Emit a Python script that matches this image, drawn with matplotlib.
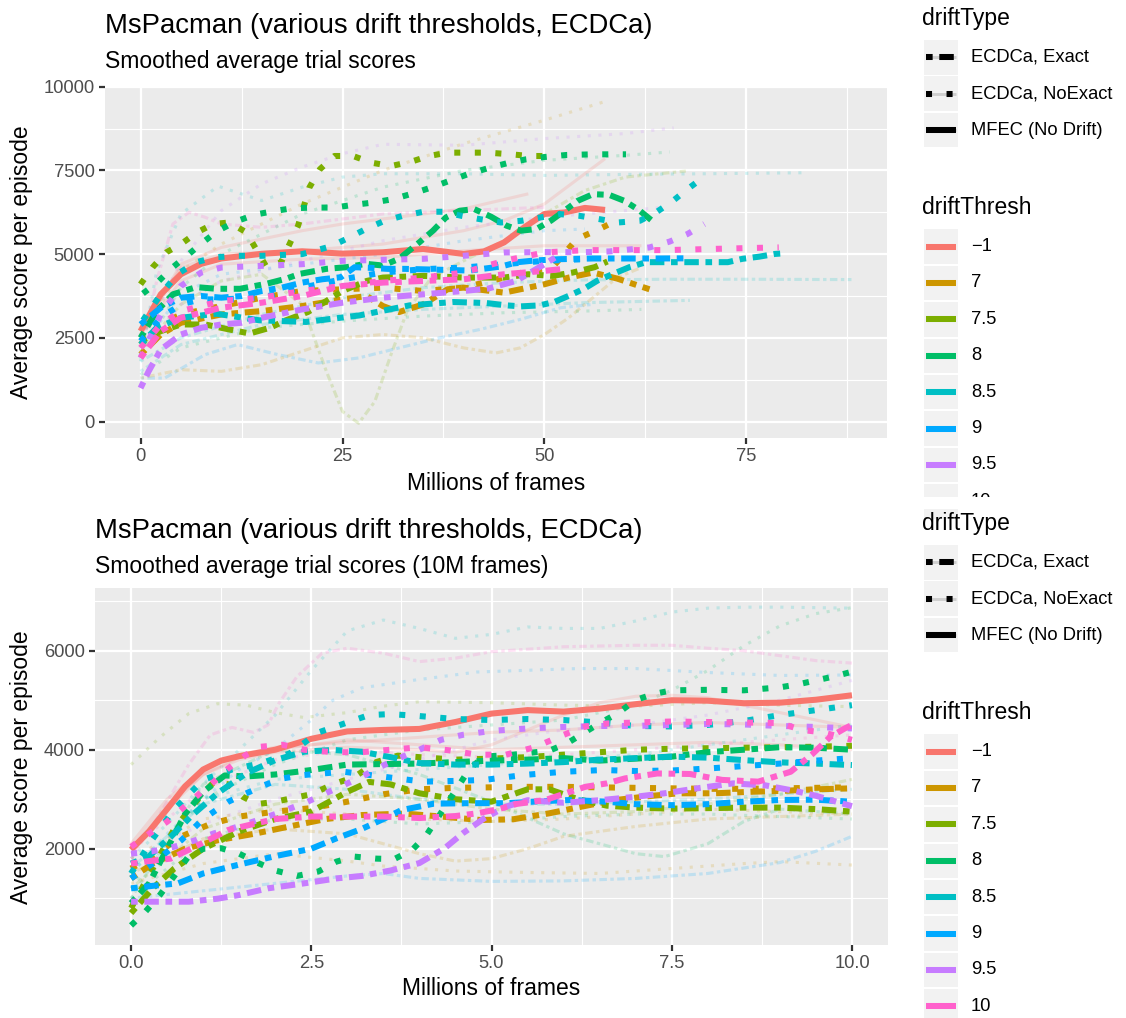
import matplotlib
matplotlib.use("Agg")
import matplotlib.pyplot as plt
from matplotlib.patches import Rectangle

plt.rcParams['font.family'] = ['Liberation Sans', 'DejaVu Sans']

W, H, DPI = 1126, 1018, 150

# ---------------- legend / category data ----------------
thresh_levels = ["\u22121", "7", "7.5", "8", "8.5", "9", "9.5", "10"]
thresh_colors = ["#F8766D", "#CD9600", "#7CAE00", "#00BE67", "#00BFC4", "#00A9FF", "#C77CFF", "#FF61CC"]
type_levels = ["ECDCa, Exact", "ECDCa, NoExact", "MFEC (No Drift)"]

# ---------------- TOP PANEL: thick (mean) lines ----------------
t_mfec_x = [0, 2.5, 5, 7.5, 10, 15, 20, 25, 30, 35, 40, 42.5, 45, 47.5, 50, 52.5, 55, 57.5]
t_mfec_y = [2700, 3800, 4400, 4710, 4870, 5010, 5085, 5015, 5055, 5155, 5005, 5080, 5350, 5800, 6200, 6245, 6380, 6320]

t_7e_x = [0, 2.5, 5, 10, 15, 20, 25, 28, 30, 32, 35, 38, 40, 45, 50, 53, 56, 59, 61, 63]
t_7e_y = [2000, 2600, 2950, 3200, 3300, 3450, 3650, 3750, 3450, 3270, 3500, 3950, 4000, 3850, 4100, 4300, 4450, 4270, 4110, 3950]
t_7n_x = [0, 2.5, 5, 10, 15, 20, 25, 30, 35, 40, 45, 48, 51, 54, 56.8, 58.9]
t_7n_y = [2300, 2900, 3200, 3450, 3700, 3900, 3950, 4000, 3900, 4000, 4300, 4500, 4610, 5450, 5750, 6000]

t_75e_x = [0, 2.5, 5, 8, 11, 13.5, 16, 18, 20.7, 23, 25, 28, 30, 35, 40, 45, 48, 51, 53.5, 56.2, 57.8]
t_75e_y = [2400, 2700, 2900, 2900, 2750, 2630, 2800, 3025, 3270, 3600, 3900, 4200, 4300, 4350, 4300, 4300, 4400, 4350, 4450, 4610, 4780]
t_75n_x = [0, 1.5, 3.2, 5, 7, 9, 11, 13.1, 15.6, 17.4, 19.5, 20.9, 22.2, 24, 26.3, 28.6, 31, 33.5, 35.7, 38, 40.5, 43, 45.9, 48.1, 50.6]
t_75n_y = [4100, 4610, 5055, 5300, 5650, 5900, 5945, 5650, 4610, 4757, 5850, 6990, 7535, 7930, 7930, 7730, 7630, 7760, 7930, 8030, 8030, 8030, 7980, 7930, 7930]

t_8e_x = [0, 2, 4, 6.9, 9.4, 12.3, 15.6, 18, 19.7, 23, 25.5, 27.9, 30, 32, 34.5, 36.2, 37.8, 39.5, 41.3, 43.4, 45.3, 47.1, 49, 50.8, 52.5, 54.1, 56, 58, 59.9, 61.7, 63.2]
t_8e_y = [2500, 3300, 3800, 4015, 3965, 3965, 4115, 4265, 4410, 4560, 4610, 4710, 4660, 4860, 5350, 5700, 6095, 6295, 6345, 6115, 5850, 5700, 5750, 6000, 6300, 6590, 6790, 6770, 6590, 6315, 6020]
t_8n_x = [0.3, 2.1, 4, 5.9, 7.7, 9.6, 11.8, 14.1, 16.6, 18.8, 21.5, 24, 26.3, 28.8, 31.2, 33.7, 36, 38.2, 40.5, 43, 45.3, 47.7, 50, 52.7, 56, 60.1]
t_8n_y = [3825, 4160, 4610, 4985, 5350, 5700, 5975, 6175, 6290, 6370, 6390, 6390, 6470, 6540, 6640, 6810, 6990, 7185, 7385, 7565, 7710, 7830, 7900, 7960, 7980, 7980]

t_85e_x = [0, 2, 5, 9.4, 14.7, 20.5, 27.1, 33.3, 38.7, 42.8, 45.3, 47.1, 49.4, 51.2, 53.1, 54.9, 56.6, 58.5, 60.5, 62.6, 64.4, 68.8, 72.7, 74.5, 76.6, 78.5, 79.7]
t_85e_y = [2300, 2800, 3100, 3220, 3025, 2975, 3170, 3470, 3570, 3540, 3470, 3440, 3470, 3570, 3765, 3965, 4215, 4410, 4610, 4760, 4760, 4760, 4760, 4860, 4925, 5005, 5025]
t_85n_x = [0.3, 2.5, 4.6, 6.9, 9.2, 12, 15, 20, 23.6, 25.7, 27.9, 30.2, 32.5, 35, 37.4, 39.7, 42, 44.6, 47.1, 51.9, 54.3, 56.8, 59.1, 61.8, 63.8, 65.9, 67.7, 69.7]
t_85n_y = [3025, 3800, 4410, 4760, 4905, 4950, 4950, 5000, 5235, 5480, 5750, 5995, 6145, 6265, 6265, 6145, 6045, 5945, 5995, 6195, 6145, 6045, 5945, 5995, 6245, 6590, 6940, 7300]

t_9e_x = [0, 2.5, 5, 7.5, 10, 12.5, 15, 17.5, 20, 22.5, 24.8, 26.5, 28.5, 30.6, 32.7, 36, 40.7, 44.6, 46.7, 48.8, 52, 56, 60, 64, 67.7]
t_9e_y = [2900, 3400, 3700, 3750, 3700, 3750, 3900, 4000, 4150, 4250, 4310, 4610, 4590, 4560, 4560, 4540, 4510, 4630, 4760, 4810, 4850, 4870, 4870, 4870, 4875]
t_9n_x = [0, 2.5, 5, 7.5, 10, 15, 20, 25, 30, 35, 40, 45, 50, 55]
t_9n_y = [2400, 3100, 3500, 3650, 3650, 3700, 4000, 4250, 4450, 4550, 4600, 4700, 4800, 4850]

t_95e_x = [0, 1, 2.5, 5, 7.5, 10, 12.5, 15, 20, 25, 30, 35, 40, 43, 46.5, 50, 52]
t_95e_y = [1000, 1500, 2150, 2600, 2800, 2900, 2950, 3100, 3350, 3550, 3700, 3800, 3900, 3970, 4200, 4700, 5000]
t_95n_x = [0, 2.5, 5, 7.5, 10, 15, 20, 25, 30, 35, 40, 45, 50, 55, 58, 61, 63, 65.5, 67.7, 69.8]
t_95n_y = [1900, 3200, 4050, 4450, 4600, 4650, 4700, 4800, 4830, 4860, 4950, 5050, 5060, 5060, 5080, 5150, 5200, 5375, 5600, 5900]

t_10e_x = [0, 2.5, 5, 10, 15, 20, 25, 30, 35, 40, 45, 50, 52]
t_10e_y = [1900, 2700, 3100, 3400, 3550, 3750, 4050, 4150, 4200, 4250, 4400, 4500, 4550]
t_10n_x = [0, 2.5, 5, 10, 15, 20, 25, 30, 35, 40, 45, 50, 55, 60, 65, 70, 75, 79]
t_10n_y = [2200, 2900, 3300, 3600, 3700, 3900, 4050, 4200, 4300, 4450, 4800, 5050, 5120, 5120, 5120, 5150, 5180, 5200]

# ---------------- TOP PANEL: faint (per-trial) lines ----------------
tf1_x = [0, 5, 10, 15, 20, 23, 25, 27, 29, 31, 33, 36, 40, 45, 50, 55, 60, 67.5]
tf1_y = [2100, 3500, 4200, 4400, 3500, 1500, 300, -50, 600, 2000, 3300, 4300, 4800, 5400, 6200, 6900, 7300, 7480]
tf2_x = [0, 5, 10, 20, 30, 40, 50, 57.4]
tf2_y = [2500, 4500, 5300, 6500, 7500, 8300, 9000, 9550]
tf3_x = [0, 5, 10, 15, 20, 25, 30, 40, 50, 60, 66]
tf3_y = [2200, 4800, 6300, 7100, 7600, 8000, 8280, 8250, 8450, 8600, 8770]
tf4_x = [0, 2, 5, 9.6, 15, 20, 25, 30, 40, 50, 60, 70, 82]
tf4_y = [1800, 4500, 6200, 7030, 6600, 7000, 7300, 7400, 7400, 7350, 7380, 7400, 7430]
tf5_x = [0, 5, 15, 25, 35, 45, 55, 65, 75, 88]
tf5_y = [1800, 2500, 3200, 3700, 4000, 4150, 4230, 4250, 4250, 4240]
tf6_x = [0, 5, 15, 25, 35, 45, 55, 68]
tf6_y = [1500, 2300, 2900, 3200, 3350, 3450, 3550, 3620]
tf7_x = [0, 5, 15, 25, 35, 45, 55, 62]
tf7_y = [1400, 2200, 2800, 3000, 3150, 3250, 3300, 3350]
tf8_x = [0, 3, 8, 12, 17, 22, 27, 32, 37, 42, 47, 52, 56]
tf8_y = [1300, 1300, 2000, 2300, 2000, 1750, 1900, 2200, 2500, 2750, 3050, 3400, 3500]
tf9_x = [0, 5, 10, 15, 20, 25, 30, 35, 40, 44, 47, 50, 53, 56, 59, 62]
tf9_y = [1300, 1550, 1500, 1700, 2100, 2500, 2600, 2500, 2200, 2050, 2200, 2600, 3100, 3700, 4300, 4600]
tf10_x = [0, 5, 10, 20, 30, 40, 45, 50, 55, 57.5]
tf10_y = [2700, 4600, 5000, 5100, 5300, 5700, 6000, 6500, 7400, 7850]
tf11_x = [0, 5, 10, 20, 30, 40, 50, 62]
tf11_y = [2600, 4200, 4700, 4850, 4900, 5100, 5250, 5250]
tf12_x = [0, 5, 10, 20, 25, 30, 40, 48]
tf12_y = [2600, 4700, 5200, 5700, 5900, 6050, 6350, 6800]
tf13_x = [0, 2, 4, 6, 8, 10, 15, 20, 25, 30, 40, 50]
tf13_y = [2000, 4200, 5900, 6250, 6100, 5900, 5800, 5900, 6050, 6200, 6300, 6400]
tf14_x = [0, 5, 10, 20, 30, 40, 50, 60, 65.5]
tf14_y = [2000, 4000, 5000, 6200, 7000, 7500, 7800, 7950, 8050]
tf15_x = [0, 5, 10, 20, 30, 40, 50, 60, 65]
tf15_y = [2000, 3500, 4200, 4800, 5400, 5800, 6100, 6300, 6400]
tf16_x = [0, 5, 10, 20, 30, 40, 50, 55]
tf16_y = [2200, 3800, 4400, 4700, 5000, 5400, 5700, 5750]

# ---------------- BOTTOM PANEL: thick (mean) lines ----------------
b_mfec_x = [0, 0.25, 0.5, 0.75, 1.0, 1.25, 1.5, 2.0, 2.5, 3.0, 3.5, 4.0, 4.5, 5.0, 5.5, 6.0, 6.5, 7.0, 7.5, 8.0, 8.5, 9.0, 9.5, 10]
b_mfec_y = [1980, 2350, 2800, 3260, 3600, 3780, 3870, 4000, 4220, 4370, 4400, 4420, 4560, 4730, 4800, 4770, 4830, 4920, 5000, 4990, 4940, 4950, 5010, 5100]

b_7e_x = [0, 0.3, 0.75, 1.2, 1.7, 2.2, 2.7, 3.2, 3.8, 4.3, 4.85, 5.3, 5.8, 6.25, 6.7, 7.2, 7.6, 8.1, 8.6, 9.05, 9.5, 10]
b_7e_y = [1400, 1700, 2000, 2170, 2300, 2450, 2600, 2680, 2710, 2650, 2580, 2595, 2715, 2850, 2980, 3065, 3120, 3120, 3150, 3170, 3200, 3220]
b_7n_x = [0, 0.3, 0.7, 1.1, 1.5, 2.0, 2.5, 3.0, 3.5, 4.0, 4.5, 5.0, 5.5, 6.0, 6.5, 7.0, 7.5, 8.0, 8.5, 9.0, 9.5, 10]
b_7n_y = [1600, 1850, 2250, 2500, 2650, 2750, 2820, 2950, 3100, 3200, 3230, 3240, 3250, 3250, 3240, 3230, 3220, 3210, 3210, 3220, 3230, 3240]

b_75e_x = [0, 0.3, 0.6, 1.0, 1.5, 2.0, 2.5, 3.0, 3.3, 3.6, 4.0, 4.5, 5.0, 5.5, 5.8, 6.2, 6.6, 7.0, 7.5, 8.0, 8.5, 9.0, 9.5, 10]
b_75e_y = [700, 1200, 1600, 2000, 2350, 2600, 2750, 3150, 3350, 3300, 3120, 3000, 2950, 3200, 3200, 3000, 2870, 2830, 2810, 2820, 2830, 2830, 2800, 2750]
b_75n_x = [0, 0.3, 0.6, 0.9, 1.15, 1.35, 1.55, 1.75, 2.0, 2.5, 2.8, 3.1, 3.4, 3.7, 4.0, 4.5, 5.0, 5.5, 6.0, 6.5, 7.0, 7.5, 8.0, 8.5, 9.0, 9.5, 10]
b_75n_y = [800, 1600, 2400, 2950, 3350, 3300, 3050, 2900, 2950, 3100, 3300, 3450, 3750, 3880, 3850, 3800, 3820, 3850, 3900, 3950, 4000, 4020, 4030, 4040, 4050, 4060, 4080]

b_8e_x = [0, 0.25, 0.5, 0.75, 1.0, 1.3, 1.6, 2.0, 2.5, 3.0, 3.5, 4.0, 4.5, 5.0, 5.5, 6.0, 6.5, 7.0, 7.5, 8.0, 8.5, 9.0, 9.5, 10]
b_8e_y = [900, 1300, 2000, 2700, 3150, 3480, 3460, 3500, 3590, 3700, 3710, 3720, 3750, 3780, 3800, 3830, 3780, 3820, 3860, 3950, 4000, 4050, 4040, 4000]
b_8n_x = [0, 0.2, 0.4, 0.6, 0.8, 1.0, 1.25, 1.5, 1.75, 2.0, 2.3, 2.6, 2.85, 3.1, 3.4, 3.65, 3.9, 4.1, 4.25, 4.4, 4.55, 4.7, 4.9, 5.3, 5.8, 6.05, 6.27, 6.5, 6.75, 7.0, 7.25, 7.5, 8.0, 8.5, 9.0, 9.25, 9.5, 9.75, 10]
b_8n_y = [450, 730, 1065, 1450, 1850, 2000, 2010, 1900, 1720, 1560, 1450, 1540, 1740, 1840, 1800, 1790, 1975, 2280, 2615, 2950, 3285, 3625, 3860, 3900, 3980, 4130, 4330, 4535, 4735, 5005, 5125, 5200, 5210, 5200, 5260, 5320, 5400, 5480, 5575]

b_85e_x = [0, 0.25, 0.55, 0.85, 1.2, 1.6, 2.0, 2.4, 2.8, 3.2, 3.6, 4.0, 4.5, 5.0, 5.5, 6.0, 6.5, 7.0, 7.5, 8.0, 8.5, 9.0, 9.5, 10]
b_85e_y = [1700, 1850, 2240, 2680, 3120, 3525, 3790, 3960, 3995, 3960, 3850, 3730, 3700, 3700, 3720, 3750, 3800, 3830, 3860, 3840, 3790, 3745, 3720, 3690]
b_85n_x = [0, 0.3, 0.6, 1.0, 1.4, 1.8, 2.2, 2.6, 3.0, 3.3, 3.6, 4.0, 4.5, 5.0, 5.5, 6.0, 6.5, 7.0, 7.5, 8.0, 8.5, 9.0, 9.5, 10]
b_85n_y = [1500, 2200, 2800, 3390, 3600, 3725, 3925, 4350, 4550, 4700, 4720, 4680, 4620, 4600, 4620, 4600, 4550, 4480, 4470, 4500, 4580, 4700, 4800, 4900]

b_9e_x = [0, 0.3, 0.65, 1.0, 1.5, 2.0, 2.5, 2.85, 3.2, 3.5, 3.75, 4.2, 4.7, 5.2, 5.7, 6.1, 6.6, 7.0, 7.5, 8.0, 8.5, 9.0, 9.5, 10]
b_9e_y = [1200, 1250, 1300, 1500, 1680, 1850, 2000, 2210, 2400, 2600, 2780, 2910, 2920, 2920, 2960, 2985, 2950, 2900, 2880, 2900, 2950, 2985, 2990, 2950]
b_9n_x = [0, 0.3, 0.7, 1.0, 1.35, 1.6, 1.85, 2.1, 2.4, 2.95, 3.5, 4.05, 4.5, 4.9, 5.45, 6.0, 6.55, 7.0, 7.5, 8.0, 8.5, 9.0, 9.5, 10]
b_9n_y = [1400, 1700, 2175, 2600, 2950, 3120, 3285, 3420, 3490, 3555, 3455, 3355, 3370, 3390, 3490, 3555, 3590, 3570, 3580, 3620, 3670, 3720, 3780, 3830]

b_95e_x = [0, 0.3, 0.8, 1.2, 1.5, 1.9, 2.4, 2.85, 3.2, 3.6, 4.0, 4.35, 4.6, 4.9, 5.2, 5.5, 6.0, 6.5, 7.0, 7.4, 7.9, 8.35, 8.8, 9.2, 9.5, 9.9, 10]
b_95e_y = [930, 930, 930, 990, 1065, 1200, 1300, 1400, 1450, 1560, 1710, 2010, 2310, 2615, 2850, 2980, 2930, 2980, 3050, 3120, 3230, 3320, 3280, 3170, 3070, 2900, 2860]
b_95n_x = [0, 0.3, 0.6, 0.9, 1.15, 1.4, 1.7, 2.0, 2.45, 2.7, 2.95, 3.2, 3.45, 3.75, 4.0, 4.3, 4.6, 5.0, 5.5, 6.0, 6.5, 7.0, 7.5, 8.0, 8.5, 9.0, 9.5, 10]
b_95n_y = [1900, 1950, 2040, 2175, 2310, 2410, 2550, 2700, 2950, 3120, 3285, 3455, 3650, 3850, 4000, 4200, 4300, 4380, 4430, 4460, 4480, 4480, 4500, 4520, 4510, 4480, 4460, 4430]

b_10e_x = [0, 0.25, 0.55, 0.9, 1.35, 1.7, 2.0, 2.5, 3.0, 3.5, 4.0, 4.5, 4.8, 5.1, 5.35, 5.75, 6.3, 6.6, 6.85, 7.3, 7.75, 8.2, 8.7, 9.15, 9.45, 9.7, 9.9, 10]
b_10e_y = [1700, 1750, 1800, 2050, 2380, 2500, 2600, 2650, 2650, 2650, 2620, 2660, 2715, 2800, 2905, 2985, 3250, 3320, 3420, 3520, 3510, 3390, 3355, 3555, 3910, 4260, 4430, 4500]
b_10n_x = [0, 0.25, 0.5, 0.9, 1.15, 1.35, 1.6, 1.8, 2.1, 2.4, 2.8, 3.2, 3.6, 4.0, 4.4, 4.8, 5.2, 5.6, 6.0, 6.3, 6.6, 7.0, 7.5, 8.0, 8.5, 9.0, 9.3, 9.6, 10]
b_10n_y = [2040, 2300, 2545, 3050, 3355, 3625, 3900, 4060, 4100, 4000, 3950, 3950, 4000, 4050, 3990, 3900, 3900, 4050, 4300, 4470, 4530, 4550, 4570, 4560, 4550, 4540, 4400, 4350, 4200]

# ---------------- BOTTOM PANEL: faint (per-trial) lines ----------------
bf1_x = [0, 0.5, 1, 1.5, 2, 2.5, 3, 3.5, 4, 4.5, 5, 5.5, 6, 6.5, 7, 7.5, 8, 8.5, 9, 9.5, 10]
bf1_y = [1800, 2500, 3300, 4000, 4700, 5600, 6400, 6620, 6450, 6250, 6330, 6480, 6450, 6450, 6600, 6780, 6860, 6880, 6880, 6870, 6860]
bf2_x = [0, 0.4, 0.8, 1.1, 1.4, 1.7, 1.9, 2.05, 2.3, 2.65, 3, 3.5, 4, 4.5, 5, 6, 7, 7.5, 8, 8.5, 9, 9.5, 10]
bf2_y = [1800, 2700, 3700, 4300, 4450, 4350, 4500, 4935, 5475, 5950, 6050, 5950, 5780, 5850, 5980, 6080, 6110, 6110, 6050, 6000, 5900, 5800, 5750]
bf3_x = [0, 0.5, 1, 1.5, 2, 2.5, 2.8, 3.2, 3.9, 4.8, 6.2, 7, 8, 9, 10]
bf3_y = [1500, 2300, 3000, 3600, 4000, 4600, 5000, 5250, 5400, 5570, 5640, 5640, 5560, 5500, 5510]
bf4_x = [0, 0.4, 0.8, 1.2, 1.6, 2, 2.4, 3, 3.5, 4, 5, 6, 7, 8, 9, 10]
bf4_y = [3700, 4250, 4730, 4930, 4900, 4750, 4650, 4750, 4880, 4970, 4950, 4900, 4880, 4950, 4900, 4870]
bf5_x = [0, 1, 2, 3, 4, 5, 6, 7, 7.5, 8, 8.5, 9, 9.5, 10]
bf5_y = [1200, 3000, 3700, 4200, 4400, 4500, 4600, 4900, 5200, 5600, 6100, 6500, 6750, 6870]
bf6_x = [0, 1, 2, 3, 4, 5, 6, 7, 7.4, 8, 8.5, 9, 10]
bf6_y = [1000, 3300, 4000, 3900, 3500, 2950, 2300, 1900, 1840, 2100, 2550, 2800, 2700]
bf7_x = [0, 1, 2, 3, 3.5, 4.5, 5.5, 6.5, 7.5, 8.5, 9, 10]
bf7_y = [1300, 1700, 1900, 1750, 1650, 1550, 1520, 1500, 1600, 1700, 1740, 1670]
bf8_x = [0, 1, 2, 3, 3.5, 4, 5, 6, 7, 8, 9, 9.5, 10]
bf8_y = [1000, 1150, 1300, 1450, 1500, 1400, 1340, 1350, 1400, 1500, 1720, 1950, 2250]
bf9_x = [0, 1, 2, 3, 3.5, 4, 4.5, 5, 5.5, 6, 7, 8, 9, 10]
bf9_y = [1500, 2200, 2400, 2300, 2100, 1900, 1750, 1800, 2000, 2250, 2450, 2600, 2650, 2700]
bf10_x = [0, 0.5, 1, 1.5, 2, 2.5, 3, 4, 4.5, 5, 5.5, 6, 6.5, 7, 7.5, 8, 8.5, 9, 9.5, 10]
bf10_y = [2000, 2900, 3500, 3800, 3950, 4000, 4050, 4000, 3950, 4100, 4400, 4700, 4950, 5080, 5100, 5050, 4900, 4750, 4600, 4450]
bf11_x = [0, 0.5, 1, 1.5, 2, 3, 4, 5, 6, 7, 8, 9, 10]
bf11_y = [1900, 2800, 3500, 3850, 4000, 4200, 4100, 4000, 4050, 4100, 4150, 4100, 4000]
bf12_x = [0, 0.5, 1, 1.5, 2, 3, 4, 5, 6, 7, 8, 9, 10]
bf12_y = [2100, 3000, 3600, 3900, 4050, 4150, 4250, 4350, 4400, 4500, 4550, 4500, 4450]
bf13_x = [0, 1, 2, 3, 4, 5, 6, 7, 8, 9, 10]
bf13_y = [1500, 3000, 3400, 3500, 3600, 3700, 3800, 3900, 4100, 4300, 4500]
bf14_x = [0, 1, 2, 3, 4, 5, 6, 7, 8, 9, 10]
bf14_y = [1800, 2500, 3000, 3400, 3800, 4200, 4400, 4500, 4700, 5000, 5400]
bf15_x = [0, 1, 2, 3, 4, 5, 6, 7, 8, 9, 10]
bf15_y = [1200, 2400, 2900, 3100, 3000, 2800, 2700, 2750, 2900, 3100, 3400]
bf16_x = [0, 1, 2, 3, 4, 5, 6, 7, 8, 9, 10]
bf16_y = [1000, 2200, 2600, 2600, 2500, 2550, 2650, 2700, 2700, 2650, 2600]
bf17_x = [0, 1, 2, 3, 4, 5, 6, 7, 8, 9, 10]
bf17_y = [1800, 2600, 2800, 2700, 2600, 2550, 2600, 2700, 2800, 2750, 2700]
bf18_x = [0, 1, 2, 3, 4, 5, 6, 7, 8, 9, 10]
bf18_y = [1600, 2900, 3300, 3200, 3000, 2900, 2900, 2950, 3000, 3100, 3200]
bf19_x = [0, 1, 2, 3, 4, 5, 6, 7, 8, 9, 10]
bf19_y = [2000, 3200, 3800, 4000, 3900, 3850, 3900, 4000, 4100, 4200, 4300]

# ---------------- styles ----------------
LS = {"E": (0, (1.1, 1.1, 2.4, 1.1)), "N": (0, (1.0, 2.4)), "S": "solid"}
COL = dict(zip(["-1", "7", "7.5", "8", "8.5", "9", "9.5", "10"], thresh_colors))

top_thick = [
    ("-1", "S", t_mfec_x, t_mfec_y),
    ("7", "E", t_7e_x, t_7e_y), ("7", "N", t_7n_x, t_7n_y),
    ("7.5", "E", t_75e_x, t_75e_y), ("7.5", "N", t_75n_x, t_75n_y),
    ("8", "E", t_8e_x, t_8e_y), ("8", "N", t_8n_x, t_8n_y),
    ("8.5", "E", t_85e_x, t_85e_y), ("8.5", "N", t_85n_x, t_85n_y),
    ("9", "E", t_9e_x, t_9e_y), ("9", "N", t_9n_x, t_9n_y),
    ("9.5", "E", t_95e_x, t_95e_y), ("9.5", "N", t_95n_x, t_95n_y),
    ("10", "E", t_10e_x, t_10e_y), ("10", "N", t_10n_x, t_10n_y),
]
top_faint = [
    ("7.5", "E", tf1_x, tf1_y), ("7", "N", tf2_x, tf2_y), ("9.5", "N", tf3_x, tf3_y),
    ("8.5", "N", tf4_x, tf4_y), ("8.5", "E", tf5_x, tf5_y), ("8.5", "E", tf6_x, tf6_y),
    ("8", "N", tf7_x, tf7_y), ("9", "E", tf8_x, tf8_y), ("7", "E", tf9_x, tf9_y),
    ("-1", "S", tf10_x, tf10_y), ("-1", "S", tf11_x, tf11_y), ("-1", "S", tf12_x, tf12_y),
    ("10", "E", tf13_x, tf13_y), ("8", "N", tf14_x, tf14_y), ("9.5", "N", tf15_x, tf15_y),
    ("9", "N", tf16_x, tf16_y),
]
bot_thick = [
    ("-1", "S", b_mfec_x, b_mfec_y),
    ("7", "E", b_7e_x, b_7e_y), ("7", "N", b_7n_x, b_7n_y),
    ("7.5", "E", b_75e_x, b_75e_y), ("7.5", "N", b_75n_x, b_75n_y),
    ("8", "E", b_8e_x, b_8e_y), ("8", "N", b_8n_x, b_8n_y),
    ("8.5", "E", b_85e_x, b_85e_y), ("8.5", "N", b_85n_x, b_85n_y),
    ("9", "E", b_9e_x, b_9e_y), ("9", "N", b_9n_x, b_9n_y),
    ("9.5", "E", b_95e_x, b_95e_y), ("9.5", "N", b_95n_x, b_95n_y),
    ("10", "E", b_10e_x, b_10e_y), ("10", "N", b_10n_x, b_10n_y),
]
bot_faint = [
    ("8.5", "N", bf1_x, bf1_y), ("10", "E", bf2_x, bf2_y), ("9", "N", bf3_x, bf3_y),
    ("7.5", "N", bf4_x, bf4_y), ("8", "N", bf5_x, bf5_y), ("8", "E", bf6_x, bf6_y),
    ("7", "N", bf7_x, bf7_y), ("9", "E", bf8_x, bf8_y), ("7", "E", bf9_x, bf9_y),
    ("-1", "S", bf10_x, bf10_y), ("-1", "S", bf11_x, bf11_y), ("-1", "S", bf12_x, bf12_y),
    ("8.5", "N", bf13_x, bf13_y), ("9.5", "N", bf14_x, bf14_y), ("7.5", "E", bf15_x, bf15_y),
    ("8", "N", bf16_x, bf16_y), ("7", "N", bf17_x, bf17_y), ("8.5", "E", bf18_x, bf18_y),
    ("10", "N", bf19_x, bf19_y),
]

fig = plt.figure(figsize=(W / DPI, H / DPI), dpi=DPI)
fig.patch.set_facecolor("white")


def rect(l, t, r, b):
    return [l / W, 1 - b / H, (r - l) / W, (b - t) / H]


def style_panel(ax, xlim, ylim, xmaj, xmin, ymaj, ymin, xlabels, ylabels):
    ax.set_facecolor("#EBEBEB")
    for s in ax.spines.values():
        s.set_visible(False)
    ax.set_xlim(*xlim)
    ax.set_ylim(*ylim)
    for v in xmin:
        ax.axvline(v, color="white", lw=0.55, zorder=0.5)
    for v in ymin:
        ax.axhline(v, color="white", lw=0.55, zorder=0.5)
    for v in xmaj:
        ax.axvline(v, color="white", lw=1.1, zorder=0.6)
    for v in ymaj:
        ax.axhline(v, color="white", lw=1.1, zorder=0.6)
    ax.set_xticks(xmaj)
    ax.set_xticklabels(xlabels)
    ax.set_yticks(ymaj)
    ax.set_yticklabels(ylabels)
    ax.tick_params(axis="both", length=2.75, width=1.07, color="#333333",
                   labelsize=8.8, labelcolor="#4D4D4D", pad=2.2)


def draw_lines(ax, faint, thick):
    for key, lt, xs, ys in faint:
        ax.plot(xs, ys, color=COL[key], lw=1.5, ls=LS[lt], alpha=0.18,
                solid_capstyle="butt", dash_capstyle="butt", zorder=1)
    for key, lt, xs, ys in thick:
        ax.plot(xs, ys, color=COL[key], lw=2.9, ls=LS[lt],
                solid_capstyle="butt", dash_capstyle="butt", zorder=2)


# ---------------- top panel ----------------
ax1 = fig.add_axes(rect(105, 86, 887, 438))
style_panel(ax1, (-4.4, 92.4), (-490, 10020), [0, 25, 50, 75], [12.5, 37.5, 62.5, 87.5],
            [0, 2500, 5000, 7500, 10000], [1250, 3750, 6250, 8750],
            ["0", "25", "50", "75"], ["0", "2500", "5000", "7500", "10000"])
draw_lines(ax1, top_faint, top_thick)

# ---------------- bottom panel ----------------
ax2 = fig.add_axes(rect(95, 588, 888, 945))
style_panel(ax2, (-0.5, 10.5), (55, 7267), [0, 2.5, 5, 7.5, 10], [1.25, 3.75, 6.25, 8.75],
            [2000, 4000, 6000], [1000, 3000, 5000, 7000],
            ["0.0", "2.5", "5.0", "7.5", "10.0"], ["2000", "4000", "6000"])
draw_lines(ax2, bot_faint, bot_thick)

# ---------------- overlay for text & legends ----------------
ov = fig.add_axes([0, 0, 1, 1], zorder=10)
ov.set_xlim(0, W)
ov.set_ylim(H, 0)
ov.axis("off")

TITLE = "MsPacman (various drift thresholds, ECDCa)"
ov.text(105, 26, TITLE, fontsize=13.2, va="center", ha="left", color="black")
ov.text(105, 61, "Smoothed average trial scores", fontsize=11, va="center", ha="left")
ov.text(496, 483, "Millions of frames", fontsize=11, va="center", ha="center")
ov.text(22, 262, "Average score per episode", fontsize=11, va="center", ha="center", rotation=90)

ov.text(95, 531, TITLE, fontsize=13.2, va="center", ha="left")
ov.text(95, 566, "Smoothed average trial scores (10M frames)", fontsize=11, va="center", ha="left")
ov.text(491, 988, "Millions of frames", fontsize=11, va="center", ha="center")
ov.text(22, 767, "Average score per episode", fontsize=11, va="center", ha="center", rotation=90)


def legend(y_dt_title, y_dt_row0, y_th_title, y_th_row0):
    kx, kw, kh, step = 924, 34, 34.5, 36.4
    ov.text(922, y_dt_title, "driftType", fontsize=11, va="center", ha="left")
    for i, lab in enumerate(type_levels):
        top = y_dt_row0 + i * step
        ov.add_patch(Rectangle((kx, top), kw, kh, facecolor="#F2F2F2", edgecolor="none"))
        cy = top + kh / 2
        lt = ["E", "N", "S"][i]
        ov.plot([926, 956], [cy, cy], color="#CFCFCF", lw=1.4, solid_capstyle="butt")
        ov.plot([926, 956], [cy, cy], color="black", lw=2.9, ls=LS[lt],
                solid_capstyle="butt", dash_capstyle="butt")
        ov.text(971, cy, lab, fontsize=8.8, va="center", ha="left")
    ov.text(922, y_th_title, "driftThresh", fontsize=11, va="center", ha="left")
    for i, lab in enumerate(thresh_levels):
        top = y_th_row0 + i * step
        ov.add_patch(Rectangle((kx, top), kw, kh, facecolor="#F2F2F2", edgecolor="none"))
        cy = top + kh / 2
        ov.plot([926, 956], [cy, cy], color=thresh_colors[i], lw=2.9, solid_capstyle="butt")
        ov.text(971, cy, lab, fontsize=8.8, va="center", ha="left")


legend(18, 40, 207, 229.3)
# top plot image is cut at this height, hiding the last legend row partially
ov.add_patch(Rectangle((900, 497), 226, 12, facecolor="white", edgecolor="none", zorder=20))
legend(523, 545, 712, 734.3)

fig.savefig("out.png", dpi=DPI)
